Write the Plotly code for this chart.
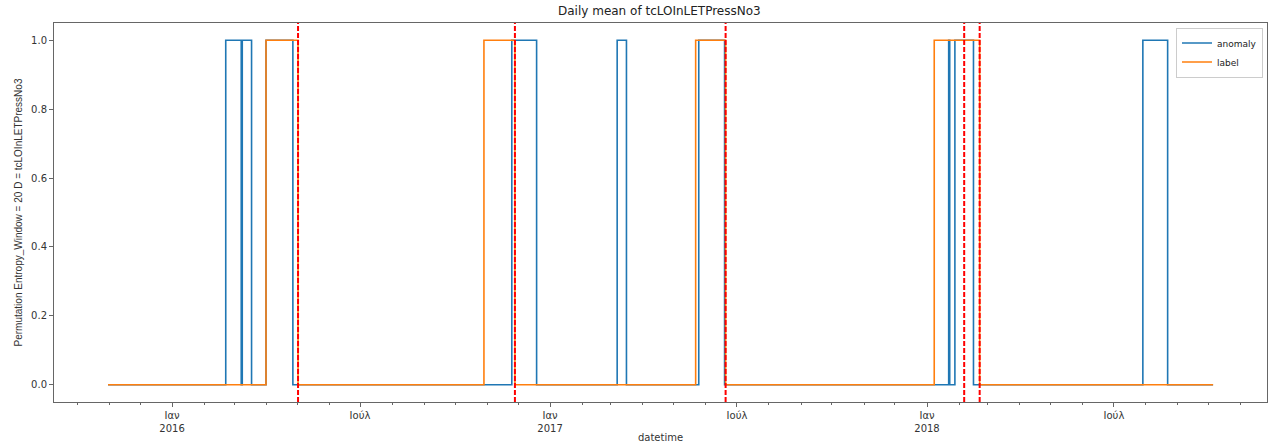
import plotly.graph_objects as go

# Step change points (value holds from each date until the next)
anomaly_dates = ['2015-10-31', '2016-02-22', '2016-03-08', '2016-03-09', '2016-03-18',
                 '2016-04-01', '2016-04-27', '2016-11-25', '2016-12-19', '2017-03-07',
                 '2017-03-16', '2017-05-25', '2017-06-19', '2018-01-22', '2018-01-23',
                 '2018-01-28', '2018-02-15', '2018-07-29', '2018-08-22', '2018-10-05']
anomaly_vals = [0, 1, 0, 1, 0, 1, 0, 1, 0, 1, 0, 1, 0, 1, 0, 1, 0, 1, 0, 0]

label_dates = ['2015-10-31', '2016-04-01', '2016-05-02', '2016-10-29', '2016-11-28',
               '2017-05-22', '2017-06-20', '2018-01-08', '2018-02-21', '2018-10-05']
label_vals = [0, 1, 0, 1, 0, 1, 0, 1, 0, 0]

event_dates = ['2016-05-02', '2016-11-28', '2017-06-20', '2018-02-06', '2018-02-21']

x_tick_vals = ['2016-01-01', '2016-07-01', '2017-01-01', '2017-07-01', '2018-01-01', '2018-07-01']
x_tick_text = ['Ιαν<br>2016', 'Ιούλ', 'Ιαν<br>2017', 'Ιούλ', 'Ιαν<br>2018', 'Ιούλ']
y_tick_vals = [0.0, 0.2, 0.4, 0.6, 0.8, 1.0]
y_tick_text = ['0.0', '0.2', '0.4', '0.6', '0.8', '1.0']

fig = go.Figure()
fig.add_trace(go.Scatter(x=anomaly_dates, y=anomaly_vals, mode='lines', name='anomaly',
                         line=dict(color='#1f77b4', width=1.6, shape='hv')))
fig.add_trace(go.Scatter(x=label_dates, y=label_vals, mode='lines', name='label',
                         line=dict(color='#ff7f0e', width=1.6, shape='hv')))

for d in event_dates:
    fig.add_shape(type='line', xref='x', yref='y domain', x0=d, x1=d, y0=0, y1=1,
                  line=dict(color='red', width=2, dash='5px,2px'))

axis_color = '#666666'
fig.update_layout(
    width=1268, height=443,
    margin=dict(l=54, r=1, t=23, b=41, autoexpand=False),
    paper_bgcolor='white', plot_bgcolor='white',
    font=dict(family='DejaVu Sans', size=10, color='#333333'),
    title=dict(text='Daily mean of tcLOInLETPressNo3', x=0.52, xanchor='center',
               y=0.985, yanchor='top', font=dict(family='DejaVu Sans', size=12, color='#222222')),
    showlegend=True,
    legend=dict(x=0.9967, xanchor='right', y=0.988, yanchor='top',
                bgcolor='rgba(255,255,255,0.8)', bordercolor='#cccccc', borderwidth=1,
                font=dict(family='DejaVu Sans', size=9, color='#222222'),
                itemwidth=30, tracegroupgap=0),
    xaxis=dict(
        automargin=False,
        range=['2015-09-08 17:00', '2018-11-26 05:00'],
        tickmode='array', tickvals=x_tick_vals, ticktext=x_tick_text,
        ticks='outside', ticklen=4, tickcolor=axis_color,
        showgrid=False, zeroline=False,
        showline=True, linecolor=axis_color, linewidth=1, mirror=True,
        minor=dict(dtick='M1', tick0='2016-01-01', ticks='outside', ticklen=2,
                   tickcolor=axis_color, showgrid=False),
        title=dict(text='datetime', standoff=2, font=dict(family='DejaVu Sans', size=10, color='#333333')),
        tickfont=dict(family='DejaVu Sans', size=10, color='#333333'),
    ),
    yaxis=dict(
        automargin=False,
        range=[-0.05, 1.05],
        tickmode='array', tickvals=y_tick_vals, ticktext=y_tick_text,
        ticks='outside', ticklen=4, tickcolor=axis_color,
        showgrid=False, zeroline=False,
        showline=True, linecolor=axis_color, linewidth=1, mirror=True,
        title=dict(text='Permutation Entropy_Window = 20 D = tcLOInLETPressNo3', standoff=6,
                   font=dict(family='Liberation Sans', size=10, color='#333333')),
        tickfont=dict(family='DejaVu Sans', size=10, color='#333333'),
    ),
)

fig.write_html('out.html')
